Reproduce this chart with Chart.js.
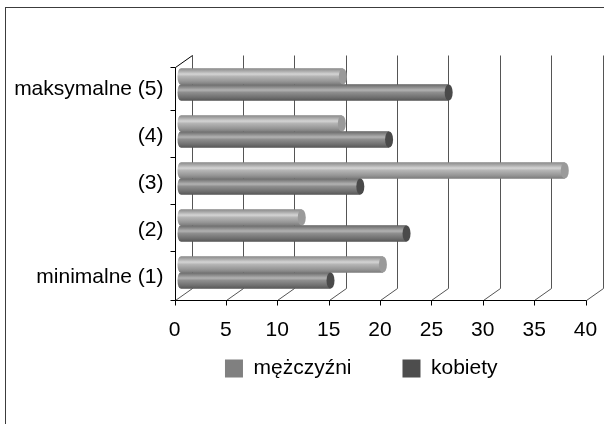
<!DOCTYPE html>
<html>
<head>
<meta charset="utf-8">
<script src="https://cdn.jsdelivr.net/npm/chart.js@4"></script>
<style>
  html, body { margin: 0; padding: 0; background: #fff; }
</style>
</head>
<body>
<canvas id="chart" width="604" height="424"></canvas>
<script>
const categories = ['maksymalne (5)', '(4)', '(3)', '(2)', 'minimalne (1)'];
const menValues = [15.8, 15.7, 37.4, 11.8, 19.7];
const womenValues = [26.1, 20.3, 17.5, 22.0, 14.6];
const seriesNames = ['mężczyźni', 'kobiety'];
const xTicks = [0, 5, 10, 15, 20, 25, 30, 35, 40];

const legendColors = ['#808080', '#4d4d4d'];
const shades = [
  { stops: ['#8c8c8c', '#a8a8a8', '#d4d4d4', '#b4b4b4', '#969696', '#7c7c7c'], cap: '#9a9a9a' },
  { stops: ['#6a6a6a', '#878787', '#b2b2b2', '#8e8e8e', '#707070', '#585858'], cap: '#4a4a4a' }
];

// offsets of the front and back planes of the fake 3d box
const FRONT_DX = -6, BACK_DX = 11;

function line(ctx, x1, y1, x2, y2) {
  ctx.beginPath();
  ctx.moveTo(x1, y1);
  ctx.lineTo(x2, y2);
  ctx.stroke();
}

const frame3d = {
  id: 'frame3d',
  beforeDraw(chart) {
    const ctx = chart.ctx;
    ctx.save();
    ctx.fillStyle = '#fff';
    ctx.fillRect(0, 0, chart.width, chart.height);
    ctx.strokeStyle = '#3c3c3c';
    ctx.lineWidth = 1;
    ctx.strokeRect(5.5, 7.5, chart.width + 20, chart.height + 20);
    ctx.restore();
  },
  beforeDatasetsDraw(chart) {
    const { ctx, chartArea, scales: { x, y } } = chart;
    const fb = Math.round(chartArea.bottom + 4) + 0.5;
    const bb = Math.round(chartArea.bottom - 8) + 0.5;
    const ft = Math.round(chartArea.top + 6) + 0.5;
    const bt = Math.round(chartArea.top - 6) + 0.5;
    ctx.save();
    ctx.lineWidth = 1;

    // back wall grid + floor lines
    ctx.strokeStyle = '#555';
    xTicks.forEach(v => {
      const px = Math.round(x.getPixelForValue(v)) + 0.5;
      line(ctx, px + BACK_DX, bt, px + BACK_DX, bb);
      line(ctx, px + FRONT_DX, fb, px + BACK_DX, bb);
    });

    // front axes
    ctx.strokeStyle = '#000';
    const x0 = Math.round(x.getPixelForValue(0)) + 0.5 + FRONT_DX;
    const x40 = Math.round(x.getPixelForValue(40)) + 0.5 + FRONT_DX;
    line(ctx, x0, fb, x40, fb);
    xTicks.forEach(v => {
      const px = Math.round(x.getPixelForValue(v)) + 0.5 + FRONT_DX;
      line(ctx, px, fb, px, fb + 5);
    });
    line(ctx, x0, ft, x0, fb);
    line(ctx, x0, ft, x0 + BACK_DX - FRONT_DX, bt);

    // category ticks on the front left axis
    const ticksY = [ft, fb];
    for (let i = 0; i < categories.length - 1; i++) {
      const mid = (y.getPixelForValue(i) + y.getPixelForValue(i + 1)) / 2;
      ticksY.push(Math.round(mid + 1.5) + 0.5);
    }
    ticksY.forEach(ty => line(ctx, x0 - 5, ty, x0, ty));
    ctx.restore();
  },
  afterDatasetsDraw(chart) {
    const ctx = chart.ctx;
    ctx.save();
    chart.data.datasets.forEach((ds, i) => {
      const meta = chart.getDatasetMeta(i);
      const shade = shades[i];
      meta.data.forEach(bar => {
        const h = bar.height;
        const top = bar.y - h / 2;
        const g = ctx.createLinearGradient(0, top, 0, top + h);
        [0, 0.15, 0.35, 0.5, 0.8, 1].forEach((p, k) => g.addColorStop(p, shade.stops[k]));
        ctx.fillStyle = g;
        ctx.beginPath();
        ctx.moveTo(bar.base, top);
        ctx.lineTo(bar.x, top);
        ctx.lineTo(bar.x, top + h);
        ctx.lineTo(bar.base, top + h);
        ctx.ellipse(bar.base, bar.y, 3, h / 2, 0, Math.PI / 2, Math.PI * 1.5);
        ctx.fill();
        ctx.beginPath();
        ctx.ellipse(bar.x, bar.y, 4, h / 2, 0, 0, Math.PI * 2);
        ctx.fillStyle = shade.cap;
        ctx.fill();
      });
    });
    ctx.restore();
  },
  afterLayout(chart) {
    // legend sits under the plot, not centred on the canvas
    const lg = chart.legend;
    const dy = 307 - lg.top;
    lg.left += 58;
    lg.right += 58;
    lg.top += dy;
    lg.bottom += dy;
  }
};

new Chart(document.getElementById('chart'), {
  type: 'bar',
  data: {
    labels: categories,
    datasets: [
      { label: seriesNames[0], data: menValues, backgroundColor: legendColors[0] },
      { label: seriesNames[1], data: womenValues, backgroundColor: legendColors[1] }
    ]
  },
  options: {
    indexAxis: 'y',
    responsive: false,
    animation: false,
    categoryPercentage: 0.68,
    barPercentage: 1,
    layout: { padding: { left: 15, top: 61, right: 12.5, bottom: 6 } },
    font: { family: 'Liberation Sans, Arial, sans-serif' },
    scales: {
      x: {
        min: 0,
        max: 40,
        grid: { display: false },
        border: { display: false },
        afterFit(scale) {
          scale.height = 40;
          scale.paddingLeft = 0;
          scale.paddingRight = 0;
        },
        ticks: {
          stepSize: 5,
          padding: 14,
          labelOffset: FRONT_DX,
          color: '#000',
          font: { size: 21, family: 'Liberation Sans, Arial, sans-serif' }
        }
      },
      y: {
        grid: { display: false },
        border: { display: false },
        afterFit(scale) { scale.width = 165.5; },
        ticks: {
          padding: 9,
          labelOffset: 5,
          color: '#000',
          font: { size: 21, family: 'Liberation Sans, Arial, sans-serif' }
        }
      }
    },
    plugins: {
      tooltip: { enabled: false },
      legend: {
        position: 'bottom',
        labels: {
          boxWidth: 18,
          boxHeight: 18,
          padding: 51,
          color: '#000',
          font: { size: 21, family: 'Liberation Sans, Arial, sans-serif' }
        }
      }
    }
  },
  plugins: [frame3d]
});
</script>
</body>
</html>
